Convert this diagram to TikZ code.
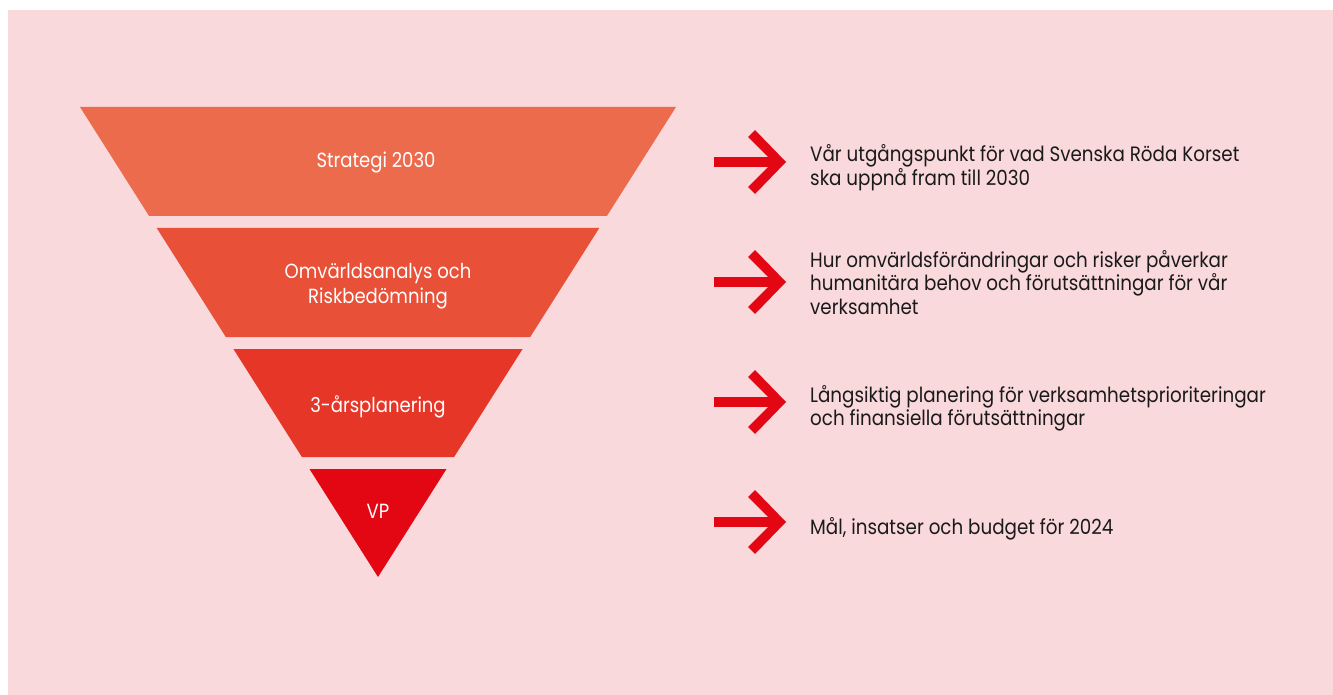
\documentclass[tikz,border=0pt]{standalone}
\usepackage{fontspec}
\setmainfont{Poppins}[FakeStretch=0.88]
\definecolor{bgpink}{HTML}{FAD9DC}
\definecolor{bandA}{HTML}{EC6B4D}
\definecolor{bandB}{HTML}{E85037}
\definecolor{bandC}{HTML}{E63628}
\definecolor{bandD}{HTML}{E30613}
\definecolor{arrowred}{HTML}{E30613}
\definecolor{txt}{HTML}{1A1A1A}
\tikzset{
  bandlabel/.style={text=white, font=\fontsize{20.5}{24}\selectfont, inner sep=0pt, anchor=base},
  desc/.style={text=txt, font=\fontsize{20.8}{24}\selectfont, inner sep=0pt, anchor=base west},
  redarrow/.pic={
    \fill[arrowred] (0,-5) rectangle (64,5);
    \fill[arrowred] (41,-32) -- (72,0) -- (41,32) -- (34,25) -- (59,0) -- (34,-25) -- cycle;
  }
}
\begin{document}
\begin{tikzpicture}[x=1pt,y=-1pt]
\useasboundingbox (0,0) rectangle (1333,695);
\fill[white] (0,0) rectangle (1333,695);
\fill[bgpink] (8,10) rectangle (1333,695);
% pyramid bands
\fill[bandA] (80,107) -- (676,107) -- (606.9,216) -- (149.1,216) -- cycle;
\fill[bandB] (156.7,228) -- (599.3,228) -- (530.2,337) -- (225.8,337) -- cycle;
\fill[bandC] (233.4,349) -- (522.6,349) -- (454.1,457) -- (301.9,457) -- cycle;
\fill[bandD] (309.5,469) -- (446.5,469) -- (378,577) -- cycle;
% band labels
\node[bandlabel] (b1) at (376,168) {Strategi 2030};
\node[bandlabel] (b2a) at (378,278) {Omvärldsanalys och};
\node[bandlabel] (b2b) at (378,303) {Riskbedömning};
\node[bandlabel] (b3) at (378,412) {3-årsplanering};
\node[bandlabel] (b4) at (378,518) {VP};
% arrows
\pic at (714,162) {redarrow};
\pic at (714,282) {redarrow};
\pic at (714,402) {redarrow};
\pic at (714,522) {redarrow};
% descriptions
\node[desc] (d1a) at (810,162) {Vår utgångspunkt för vad Svenska Röda Korset};
\node[desc] (d1b) at (810,186) {ska uppnå fram till 2030};
\node[desc] (d2a) at (810,267) {Hur omvärldsförändringar och risker påverkar};
\node[desc] (d2b) at (810,290.5) {humanitära behov och förutsättningar för vår};
\node[desc] (d2c) at (810,314) {verksamhet};
\node[desc] (d3a) at (810,402) {Långsiktig planering för verksamhetsprioriteringar};
\node[desc] (d3b) at (810,425) {och finansiella förutsättningar};
\node[desc] (d4) at (810,534) {Mål, insatser och budget för 2024};
\end{tikzpicture}
\end{document}
